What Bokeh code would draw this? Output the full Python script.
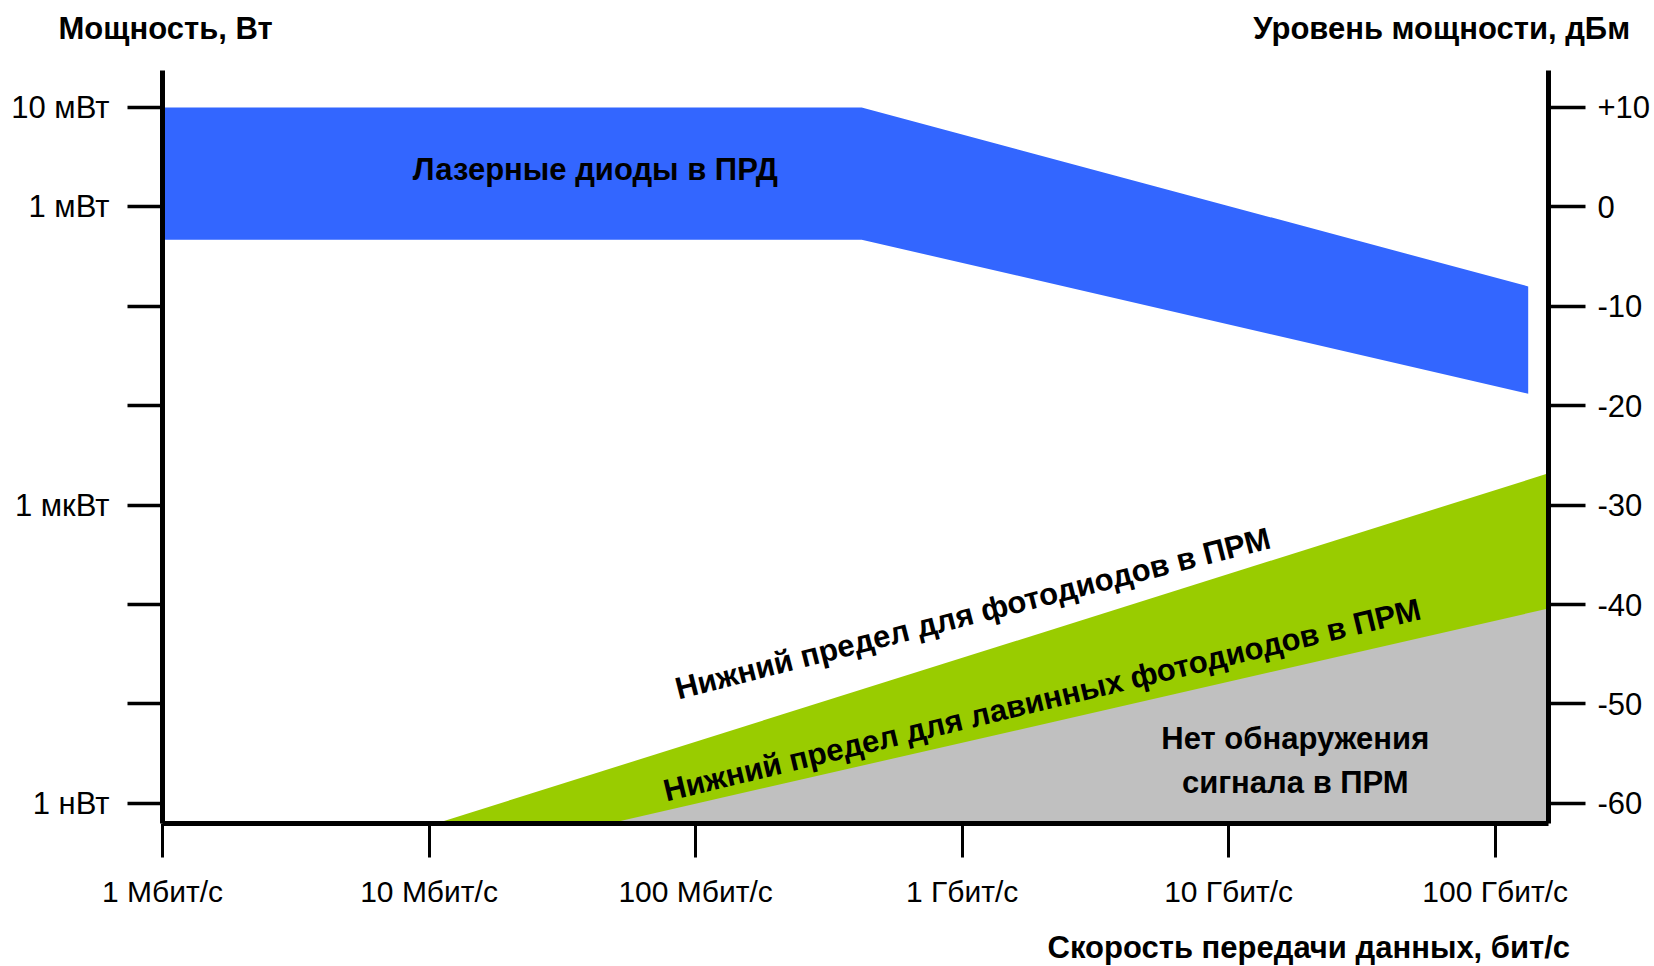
from bokeh.plotting import figure
from bokeh.models import Range1d, FixedTicker, LinearAxis, Label
from bokeh.core.properties import value
from bokeh.embed import file_html
from bokeh.resources import INLINE

# ---- data (bit rate in bit/s, power level in dBm) ----
x_ticks = [1e6, 1e7, 1e8, 1e9, 1e10, 1e11]
x_tick_labels = ["1 Мбит/с", "10 Мбит/с", "100 Мбит/с", "1 Гбит/с", "10 Гбит/с", "100 Гбит/с"]
y_ticks = [10, 0, -10, -20, -30, -40, -50, -60]
y_left_labels = ["10 мВт", "1 мВт", "", "", "1 мкВт", "", "", "1 нВт"]
y_right_labels = ["+10", "0", "-10", "-20", "-30", "-40", "-50", "-60"]

laser_x = [1e6, 4.2e8, 1.33e11]
laser_top = [10.0, 10.0, -8.0]
laser_bottom = [-3.3, -3.3, -18.8]

pd_x = [1.07e7, 10**11.2]          # lower limit for photodiodes
pd_y = [-62.0, -26.8]
apd_x = [4.8e7, 10**11.2]          # lower limit for avalanche photodiodes
apd_y = [-62.0, -40.4]

X_MIN, X_MAX = 1e6, 10**11.2
Y_MIN, Y_MAX = -62.03, 13.72

FONT = "Liberation Sans"

p = figure(width=1654, height=966, x_axis_type="log",
           x_range=Range1d(X_MIN, X_MAX), y_range=Range1d(Y_MIN, Y_MAX),
           output_backend="svg", toolbar_location=None,
           min_border_left=162, min_border_right=106, min_border_top=70, min_border_bottom=143)
p.outline_line_color = None
p.grid.visible = False
p.background_fill_color = "white"

# bands
p.varea(x=laser_x, y1=laser_bottom, y2=laser_top, fill_color="#3366FF")
p.patch(x=[pd_x[0], pd_x[1], pd_x[1]], y=[pd_y[0], pd_y[1], Y_MIN], fill_color="#99CC00", line_color=None)
p.patch(x=[apd_x[0], apd_x[1], apd_x[1]], y=[apd_y[0], apd_y[1], Y_MIN], fill_color="#C0C0C0", line_color=None)

# in-plot texts
common = dict(text_font=value(FONT), text_font_style="bold", text_align="center",
              text_baseline="middle", text_color="black")
p.text(x=[10**7.624], y=[3.8], text=["Лазерные диоды в ПРД"], text_font_size="31px", **common)
p.text(x=[10**9.040], y=[-40.9], text=["Нижний предел для фотодиодов в ПРМ"], angle=0.25,
       text_font_size="31px", **common)
p.text(x=[10**9.300], y=[-49.6], text=["Нижний предел для лавинных фотодиодов в ПРМ"], angle=0.237,
       text_font_size="31px", **common)
p.text(x=[10**10.25, 10**10.25], y=[-53.5, -57.9], text=["Нет обнаружения", "сигнала в ПРМ"],
       text_font_size="31px", **common)

# x axis
xa = p.xaxis[0]
xa.ticker = FixedTicker(ticks=x_ticks)
xa.major_label_overrides = {t: l for t, l in zip(x_ticks, x_tick_labels)}
xa.axis_line_width = 5
xa.major_tick_line_width = 3
xa.major_tick_out = 34
xa.major_tick_in = 0
xa.minor_tick_line_color = None
xa.major_label_standoff = 17
xa.major_label_text_font = FONT
xa.major_label_text_font_size = "30px"
xa.major_label_text_color = "black"

# left y axis
ya = p.yaxis[0]
ya.ticker = FixedTicker(ticks=y_ticks)
ya.major_label_overrides = {t: l for t, l in zip(y_ticks, y_left_labels)}
ya.axis_line_width = 5
ya.major_tick_line_width = 3.5
ya.major_tick_out = 35
ya.major_tick_in = 0
ya.minor_tick_line_color = None
ya.major_label_standoff = 18
ya.major_label_text_font = FONT
ya.major_label_text_font_size = "31px"
ya.major_label_text_color = "black"

# right y axis
ra = LinearAxis(ticker=FixedTicker(ticks=y_ticks),
                major_label_overrides={t: l for t, l in zip(y_ticks, y_right_labels)})
ra.axis_line_width = 5
ra.major_tick_line_width = 3.5
ra.major_tick_out = 37
ra.major_tick_in = 0
ra.minor_tick_line_color = None
ra.major_label_standoff = 12
ra.major_label_text_font = FONT
ra.major_label_text_font_size = "31px"
ra.major_label_text_color = "black"
p.add_layout(ra, "right")

# titles (placed in side panels so they are not clipped by the frame)
title_style = dict(text_font=FONT, text_font_style="bold", text_color="black", text_baseline="middle")
p.add_layout(Label(x=10**5.61, y=17.95, text="Мощность, Вт", text_align="left",
                   text_font_size="31px", **title_style), "above")
p.add_layout(Label(x=10**11.506, y=17.95, text="Уровень мощности, дБм", text_align="right",
                   text_font_size="31px", **title_style), "above")
p.add_layout(Label(x=10**11.281, y=-74.5, text="Скорость передачи данных, бит/с", text_align="right",
                   text_font_size="31px", **title_style), "below")

open("out.html", "w").write(file_html(p, INLINE))
